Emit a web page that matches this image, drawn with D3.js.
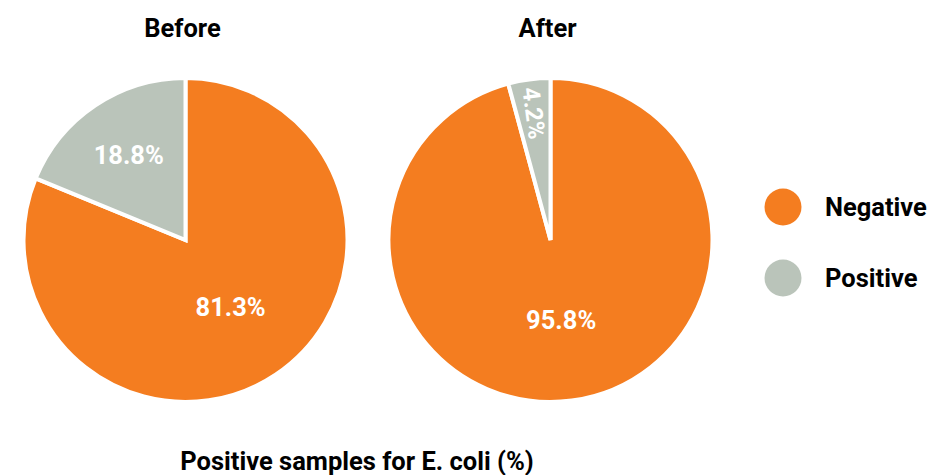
<!DOCTYPE html>
<html><head><meta charset="utf-8">
<script src="https://cdn.jsdelivr.net/npm/d3@7"></script>
<style>body{margin:0;background:#fff}text{font-family:Roboto,"Open Sans",sans-serif;font-weight:700}</style>
</head><body><svg id="c" width="932" height="475"></svg>
<script>
const categories = ["Negative", "Positive"];
const panels = ["Before", "After"];
const beforeValues = [81.3, 18.8];
const afterValues = [95.8, 4.2];
const colors = ["#F47D20", "#BAC4BA"];
const chartTitle = "Positive samples for E. coli (%)";

const svg = d3.select("#c");
const R = 162;
const FS = 25.5;
const centersX = d3.scalePoint().domain(panels).range([185.5, 550.5]);
const cy = 240;
const color = d3.scaleOrdinal().domain(categories).range(colors);
const pie = d3.pie().sort(null).value(d => d.v);
const arc = d3.arc().innerRadius(0).outerRadius(R);

[beforeValues, afterValues].forEach((vals, i) => {
  const name = panels[i];
  const cx = centersX(name);
  const g = svg.append("g").attr("transform", `translate(${cx},${cy})`);
  const data = pie(categories.map((c, j) => ({c, v: vals[j]})));
  g.selectAll("path").data(data).join("path")
    .attr("d", arc).attr("fill", d => color(d.data.c))
    .attr("stroke", "#fff").attr("stroke-width", 4).attr("stroke-linejoin", "miter");
  data.forEach(d => {
    const frac = (d.endAngle - d.startAngle) / (2 * Math.PI);
    const mid = (d.startAngle + d.endAngle) / 2;
    let rr = frac > 0.5 ? 0.5 : (frac < 0.1 ? 0.79 : 0.63);
    const x = Math.sin(mid) * R * rr, y = -Math.cos(mid) * R * rr;
    const t = g.append("text").attr("x", 0).attr("y", 0)
      .attr("text-anchor", "middle").attr("dominant-baseline", "central")
      .attr("fill", "#fff").attr("font-size", frac < 0.1 ? 24 : FS)
      .text(d3.format(".1f")(d.data.v) + "%");
    if (frac < 0.1) t.attr("transform", `translate(${x},${y}) rotate(${mid * 180 / Math.PI + 90})`);
    else t.attr("transform", `translate(${x},${y})`);
  });
  svg.append("text").attr("x", cx - 3).attr("y", 37).attr("text-anchor", "middle")
    .attr("font-size", FS).attr("fill", "#000").text(name);
});

const leg = d3.scalePoint().domain(categories).range([207, 278]);
categories.forEach(c => {
  svg.append("circle").attr("cx", 783).attr("cy", leg(c)).attr("r", 18.5).attr("fill", color(c));
  svg.append("text").attr("x", 825).attr("y", leg(c)).attr("dominant-baseline", "central")
    .attr("font-size", FS).attr("fill", "#000").text(c);
});

svg.append("text").attr("x", 357).attr("y", 470).attr("text-anchor", "middle")
  .attr("font-size", FS).attr("fill", "#000").text(chartTitle);
</script></body></html>
